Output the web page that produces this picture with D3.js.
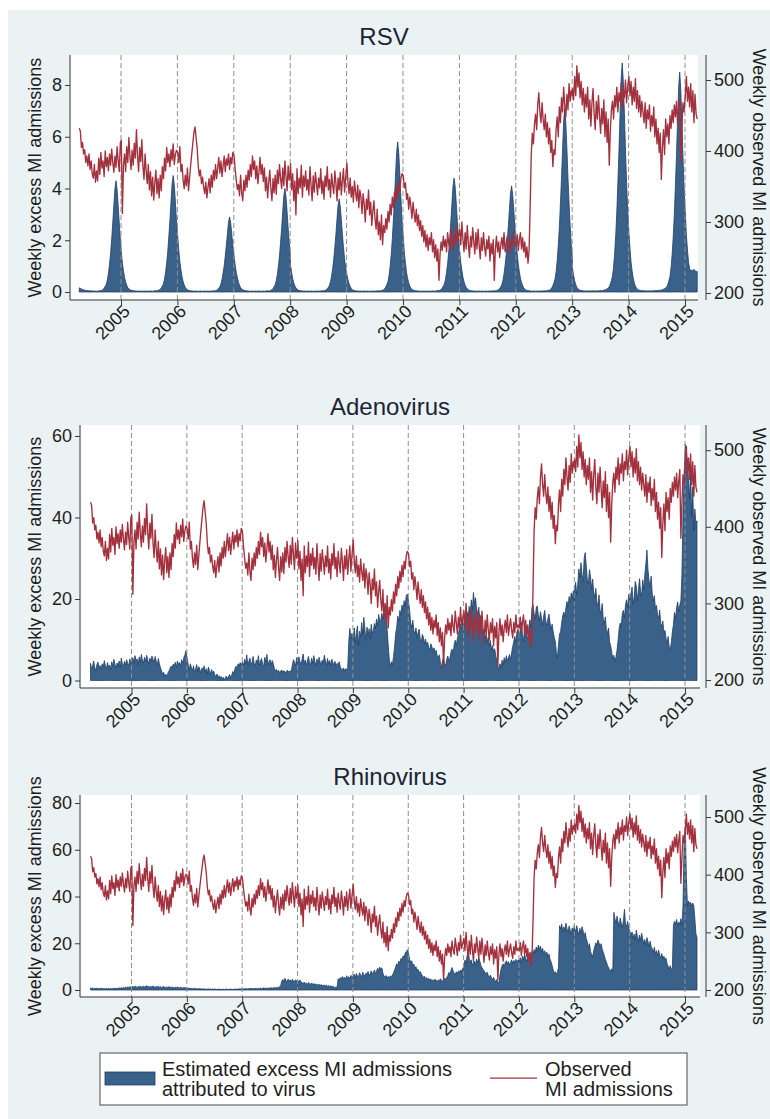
<!DOCTYPE html>
<html><head><meta charset="utf-8">
<script src="https://cdn.jsdelivr.net/npm/d3@7"></script>
<style>
body{margin:0;background:#fff}
svg{display:block}
text{font-family:"Liberation Sans",Arial,Helvetica,sans-serif}
</style>
</head><body>
<svg id="c" width="770" height="1119"></svg>
<script>
// ---------------- DATA ----------------
const seriesYears = [2004,2005,2006,2007,2008,2009,2010,2011,2012,2013,2014,2015];
const yearTicks = [2005,2006,2007,2008,2009,2010,2011,2012,2013,2014,2015];
const observedTicks = [200,300,400,500];
const rsvTicks = [0,2,4,6,8];
const adenoTicks = [0,20,40,60];
const rhinoTicks = [0,20,40,60,80];
const panelTitles = ["RSV","Adenovirus","Rhinovirus"];
const leftAxisTitle = "Weekly excess MI admissions";
const rightAxisTitle = "Weekly observed MI admissions";
const legendLabels = [["Estimated excess MI admissions","attributed to virus"],["Observed","MI admissions"]];

// weekly observed MI admissions, one row per year (2004 starts in April, 2015 ends in March)
const observed = [
[432,428,405,412,396,402,384,393,379,396,374,386,368,362,381,356,372,358,390,367,398,376,386,364,400,378,391,372,396,380,403,384,370,393,377,406,386,371,412],
[415,312,380,396,371,406,384,419,392,374,401,380,411,390,430,394,371,405,385,416,379,360,396,371,354,381,345,371,337,363,331,356,373,340,361,334,366,344,378,361,390,372,405,384,396,378,402,387,410,381,395,401],
[398,384,406,371,381,359,347,366,351,376,344,362,380,396,411,426,434,419,404,379,365,373,354,363,349,340,356,334,349,361,341,366,349,373,359,381,361,376,391,369,386,364,379,393,371,389,380,396,374,391,382,398],
[393,374,359,346,353,337,366,341,330,359,344,366,349,373,359,381,364,393,374,386,361,379,354,371,391,367,381,357,376,344,363,334,356,373,347,330,361,341,366,339,373,354,381,361,347,376,351,386,364,344,379,359,371],
[382,345,368,330,358,310,375,340,362,348,380,335,365,350,372,345,360,338,378,352,330,365,342,370,355,338,362,348,375,340,358,332,365,350,378,345,360,335,368,352,340,372,355,330,362,345,370,338,358,375,342,362],
[383,355,340,362,335,350,328,358,342,330,352,320,345,335,312,340,325,300,332,318,345,310,328,295,315,330,305,290,318,282,300,275,310,268,295,285,305,290,315,300,325,310,335,320,342,328,350,335,355,345,362,368],
[365,348,355,332,340,318,335,322,305,328,312,300,318,295,310,288,302,280,295,272,288,265,282,260,278,268,285,258,275,250,268,245,262,218,255,272,260,280,265,275,258,285,270,262,290,275,260,282,268,295,272,280],
[290,268,300,275,258,285,262,295,270,250,280,265,292,272,255,285,262,290,268,248,278,260,285,265,252,275,262,280,245,270,255,275,218,262,280,258,272,250,268,278,262,285,258,270,280,265,255,275,262,285,268,272],
[268,282,260,275,285,262,278,258,272,250,265,242,260,320,395,425,410,438,452,430,465,482,455,440,468,445,430,452,420,440,410,432,398,415,378,402,395,430,448,420,462,440,475,455,490,465,448,480,458,495,470,485,478],
[488,472,505,478,520,490,510,475,498,465,488,455,480,462,490,445,472,435,468,488,452,430,470,445,478,450,425,460,438,472,420,455,412,445,380,430,458,470,445,478,462,490,455,482,470,495,460,485,475,500,468,490],
[505,478,498,465,490,470,502,460,485,455,478,448,470,455,440,468,432,458,445,465,428,450,435,462,420,445,410,432,398,425,360,405,430,395,445,420,438,410,450,432,458,440,465,448,470,438,460,475,385,430,468,455],
[478,505,470,490,462,495,455,485,440,480,452,445]
];

const rsvExcess = [
[0.16,0.14,0.12,0.1,0.09,0.07,0.06,0.06,0.05,0.05,0.04,0.05,0.04,0.04,0.03,0.04,0.03,0.04,0.04,0.05,0.05,0.06,0.1,0.15,0.22,0.3,0.47,0.73,1.08,1.5,2.06,2.67,3.35,4.0,4.3,3.96,3.35,2.67,2.06],
[1.55,1.12,0.82,0.56,0.39,0.26,0.17,0.12,0.09,0.07,0.06,0.05,0.05,0.04,0.04,0.03,0.04,0.03,0.03,0.04,0.03,0.03,0.04,0.03,0.03,0.04,0.03,0.04,0.04,0.03,0.04,0.05,0.04,0.05,0.06,0.08,0.1,0.16,0.23,0.32,0.5,0.77,1.13,1.58,2.16,2.79,3.51,4.19,4.5,4.14,3.51,2.79],
[2.16,1.62,1.17,0.86,0.59,0.41,0.27,0.18,0.12,0.09,0.07,0.06,0.05,0.04,0.04,0.03,0.03,0.04,0.03,0.03,0.03,0.04,0.03,0.03,0.03,0.04,0.03,0.03,0.04,0.03,0.03,0.04,0.04,0.04,0.05,0.05,0.07,0.1,0.15,0.2,0.32,0.49,0.73,1.02,1.39,1.8,2.26,2.7,2.9,2.67,2.26,1.8],
[1.39,1.04,0.75,0.55,0.38,0.26,0.17,0.12,0.09,0.07,0.05,0.05,0.04,0.04,0.03,0.03,0.04,0.03,0.03,0.03,0.04,0.03,0.03,0.04,0.03,0.03,0.03,0.04,0.03,0.04,0.04,0.05,0.04,0.05,0.06,0.09,0.14,0.2,0.28,0.44,0.68,1.0,1.4,1.92,2.48,3.12,3.72,4.0,3.68,3.12,2.48,1.92,1.44],
[1.04,0.76,0.52,0.36,0.24,0.16,0.11,0.08,0.06,0.05,0.05,0.04,0.04,0.04,0.03,0.03,0.04,0.03,0.03,0.04,0.03,0.03,0.03,0.04,0.03,0.04,0.03,0.04,0.04,0.05,0.04,0.05,0.06,0.08,0.13,0.18,0.25,0.4,0.61,0.9,1.26,1.73,2.23,2.81,3.35,3.6,3.31,2.81,2.23,1.73,1.3,0.94],
[0.68,0.47,0.32,0.22,0.14,0.1,0.07,0.06,0.05,0.04,0.04,0.04,0.03,0.04,0.03,0.03,0.04,0.03,0.03,0.04,0.03,0.03,0.03,0.04,0.03,0.04,0.03,0.04,0.04,0.05,0.04,0.05,0.06,0.07,0.09,0.13,0.2,0.29,0.41,0.64,0.99,1.45,2.03,2.78,3.6,4.52,5.39,5.8,5.34,4.52,3.6,2.78],
[2.09,1.51,1.1,0.75,0.52,0.35,0.23,0.15,0.1,0.08,0.06,0.05,0.05,0.04,0.04,0.03,0.04,0.03,0.03,0.04,0.03,0.03,0.04,0.03,0.03,0.04,0.03,0.04,0.04,0.03,0.04,0.05,0.05,0.06,0.07,0.1,0.15,0.22,0.31,0.48,0.75,1.1,1.54,2.11,2.73,3.43,4.09,4.4,4.05,3.43,2.73,2.11],
[1.58,1.14,0.84,0.57,0.4,0.26,0.18,0.12,0.09,0.07,0.05,0.05,0.04,0.04,0.03,0.04,0.03,0.03,0.04,0.03,0.03,0.04,0.03,0.03,0.04,0.03,0.03,0.04,0.04,0.03,0.04,0.05,0.04,0.05,0.06,0.07,0.1,0.14,0.2,0.29,0.45,0.7,1.03,1.44,1.97,2.54,3.2,3.81,4.1,3.77,3.2,2.54],
[1.97,1.48,1.07,0.78,0.53,0.37,0.25,0.16,0.11,0.08,0.06,0.05,0.05,0.04,0.04,0.03,0.04,0.04,0.03,0.04,0.03,0.04,0.04,0.03,0.04,0.04,0.05,0.04,0.05,0.06,0.07,0.08,0.11,0.16,0.25,0.36,0.5,0.78,1.21,1.78,2.49,3.41,4.4,5.54,6.6,7.1,6.53,5.54,4.4,3.41,2.56,1.85,1.35],
[0.92,0.64,0.43,0.28,0.18,0.12,0.09,0.07,0.06,0.05,0.05,0.04,0.04,0.05,0.04,0.04,0.05,0.04,0.04,0.05,0.04,0.04,0.05,0.04,0.05,0.05,0.06,0.05,0.06,0.07,0.08,0.1,0.12,0.15,0.2,0.31,0.44,0.62,0.97,1.5,2.21,3.1,4.25,5.49,6.9,8.23,8.85,8.14,6.9,5.49,4.25,3.19],
[2.3,1.68,1.15,0.8,0.53,0.35,0.22,0.15,0.11,0.08,0.07,0.06,0.05,0.05,0.05,0.04,0.05,0.04,0.05,0.04,0.05,0.05,0.04,0.05,0.05,0.06,0.05,0.06,0.07,0.06,0.08,0.09,0.11,0.13,0.16,0.19,0.3,0.43,0.6,0.94,1.45,2.13,2.98,4.08,5.27,6.63,7.9,8.5,7.82,6.63,5.27,4.08],
[3.06,2.21,1.62,1.15,0.9,0.82,0.85,0.8,0.88,0.82,0.78,0.8]
];

const adenoExcess = [
[4.2,2.8,3.6,4.8,3.1,2.5,3.9,4.5,3.0,3.7,2.6,4.1,3.3,4.9,3.5,2.9,4.4,3.2,3.8,2.7,4.6,3.4,5.2,3.9,3.1,4.3,3.6,4.8,3.2,5.5,4.0,3.5,4.7,3.8,5.1,4.2,3.6,5.3,4.4],
[4.8,5.6,4.2,6.1,4.9,5.3,3.8,5.8,4.5,6.4,5.0,4.3,5.7,4.6,6.2,5.1,3.9,5.5,4.7,6.0,5.2,4.4,5.9,4.8,3.7,5.4,4.1,3.2,2.4,1.6,2.0,1.2,1.5,1.0,1.8,2.3,2.9,3.5,3.1,4.0,3.6,4.5,3.2,4.8,3.9,4.4,3.5,5.1,4.2,5.6,6.2,7.3],
[5.5,3.8,2.6,4.1,3.2,2.4,3.6,1.9,2.8,3.9,2.2,3.4,2.7,1.8,3.1,2.5,3.6,2.0,2.9,1.6,3.3,2.4,1.5,2.7,1.9,2.3,1.4,0.9,1.6,0.7,1.2,0.5,1.0,0.3,0.8,0.2,0.6,1.1,0.4,0.9,1.5,0.7,1.3,2.2,1.6,2.8,3.5,2.9,4.1,3.6,4.4,3.8],
[4.5,3.6,5.2,4.1,6.3,3.8,4.7,5.5,3.9,4.4,5.9,4.2,3.5,5.0,4.3,6.1,3.7,4.8,5.4,4.0,3.4,5.7,4.5,6.4,3.9,4.6,5.1,3.8,4.9,4.2,3.0,2.4,2.7,2.1,2.5,1.9,2.3,2.6,2.0,2.4,2.2,1.8,2.5,2.3,2.1,2.4,2.2,3.8,5.1,4.4,3.6,5.6,4.9],
[4.3,5.8,4.6,3.9,5.2,6.5,4.1,5.0,3.7,4.8,5.9,4.4,3.8,5.5,4.2,6.1,4.7,3.6,5.3,4.0,5.7,4.5,3.9,5.0,4.3,6.2,4.8,3.7,5.4,4.1,4.9,3.6,5.2,4.4,3.8,4.7,3.5,4.2,3.9,4.6,3.3,2.8,2.5,3.1,2.4,2.9,2.6,3.2,9.5,12.8,10.2,11.6],
[10.4,12.9,9.1,11.8,13.4,8.6,12.1,10.7,14.2,11.3,15.5,12.6,9.8,13.1,11.0,12.7,10.3,13.8,11.6,12.2,14.0,12.8,15.1,13.5,16.2,14.6,14.8,16.5,15.2,17.0,18.4,16.8,12.5,8.6,5.2,3.4,4.6,3.8,5.9,8.2,11.5,13.0,15.8,14.5,17.2,16.0,18.5,17.1,19.6,18.2,20.8,21.2],
[19.5,17.2,14.1,13.0,14.8,12.2,11.5,12.9,10.4,11.8,12.6,10.1,9.5,11.3,10.6,9.0,10.2,8.7,9.4,8.1,7.6,9.0,8.3,7.2,8.0,6.9,7.4,6.1,5.5,6.3,4.4,3.0,4.9,5.6,4.1,3.6,5.2,6.0,4.8,5.5,6.9,7.7,6.4,8.8,9.9,8.6,10.3,11.5,12.8,13.9,12.6,14.6],
[13.2,15.6,14.1,16.8,15.3,18.2,16.5,19.8,17.4,21.6,18.9,20.3,17.1,16.2,18.0,14.8,15.9,13.1,11.5,12.6,10.2,11.4,9.3,10.7,8.5,9.8,7.4,8.6,6.9,7.8,6.2,4.8,3.5,2.6,4.1,3.2,5.0,3.8,5.6,4.3,6.1,4.9,5.5,6.4,5.1,6.8,8.3,9.6,10.8,9.4,11.9,12.6],
[10.8,12.6,14.3,11.2,9.6,12.9,13.8,11.0,10.2,12.4,14.9,13.1,17.9,18.6,16.4,15.1,17.8,18.3,16.0,14.7,16.9,15.3,13.6,15.8,17.2,14.6,13.4,15.1,16.3,14.2,12.5,13.8,11.9,10.6,9.5,6.8,5.6,8.9,11.4,12.0,14.2,15.9,16.8,15.6,17.9,19.4,18.0,20.6,19.1,21.5,20.2,22.0,19.0],
[22.5,24.1,21.0,23.6,27.4,25.2,28.9,26.0,24.3,29.9,31.4,28.1,24.6,23.8,27.2,25.5,22.4,24.9,21.7,20.3,22.6,19.1,18.4,21.0,17.2,16.5,18.9,15.1,14.0,15.6,12.3,11.7,12.9,9.4,8.6,6.9,5.3,6.2,4.6,5.8,7.4,9.9,12.8,14.1,13.3,16.5,17.2,15.4,18.6,19.8,17.9,21.1],
[19.8,21.4,22.9,18.7,20.5,24.3,23.1,19.6,22.2,25.0,21.8,20.6,24.7,22.3,25.9,28.6,32.0,27.1,24.4,23.0,25.6,21.2,19.5,20.8,17.6,18.4,16.2,15.1,17.3,14.0,13.2,14.6,11.5,12.3,10.4,9.1,10.8,8.2,7.6,9.3,11.9,13.8,16.7,15.2,17.9,19.3,16.8,18.5,19.5,26.0,40.5,50.2],
[58.0,55.5,53.6,49.2,44.5,51.8,40.2,47.5,36.8,42.1,38.5,39.2]
];

const rhinoExcess = [
[0.8,0.6,0.9,0.5,0.7,0.6,0.8,0.4,0.7,0.5,0.6,0.8,0.5,0.6,0.4,0.7,0.5,0.6,0.5,0.7,0.4,0.6,0.8,0.5,0.7,0.6,0.8,0.9,0.7,1.0,0.8,1.1,0.9,1.2,1.0,1.3,1.1,1.4,1.2],
[1.3,1.5,1.2,1.6,1.4,1.1,1.5,1.3,1.7,1.2,1.4,1.6,1.3,1.5,1.8,1.4,1.6,1.2,1.5,1.3,1.7,1.4,1.1,1.5,1.3,1.6,1.2,1.4,1.1,1.3,1.5,1.2,1.0,1.3,1.1,1.4,1.2,1.0,1.3,1.1,0.9,1.2,1.0,1.3,1.1,0.9,1.2,1.0,0.8,1.1,0.9,1.0],
[0.9,0.7,0.8,0.6,0.7,0.5,0.6,0.7,0.5,0.6,0.4,0.5,0.6,0.4,0.5,0.3,0.5,0.4,0.3,0.4,0.5,0.3,0.4,0.3,0.4,0.3,0.4,0.3,0.2,0.3,0.4,0.2,0.3,0.2,0.3,0.2,0.3,0.4,0.3,0.2,0.3,0.4,0.3,0.2,0.3,0.4,0.3,0.4,0.3,0.5,0.4,0.5],
[0.4,0.5,0.4,0.6,0.5,0.4,0.6,0.5,0.7,0.5,0.6,0.5,0.7,0.6,0.5,0.7,0.6,0.8,0.6,0.7,0.9,0.7,0.8,0.6,0.9,0.7,0.8,1.0,0.8,0.9,1.1,0.9,1.0,1.2,1.0,1.4,1.9,3.8,4.5,3.6,5.0,4.1,3.5,4.7,3.9,4.3,3.4,4.6,4.0,3.5,4.4,3.8,4.2],
[4.0,3.6,4.3,3.3,3.1,2.8,3.4,2.6,3.0,2.4,3.2,2.7,2.5,3.0,2.3,2.8,2.1,2.6,2.4,2.0,2.5,1.9,2.3,2.0,1.8,2.2,1.7,2.0,1.6,1.9,1.5,1.8,1.4,1.6,1.2,1.0,1.3,1.1,4.8,4.2,5.3,4.6,5.8,4.9,5.5,4.4,6.1,5.0,5.7,4.8,6.3,5.4],
[5.9,6.8,5.2,7.1,6.0,5.5,7.4,6.3,5.8,7.6,6.5,5.9,7.2,6.6,7.9,6.2,7.0,8.2,6.8,7.5,8.6,7.1,8.0,9.3,8.4,9.8,8.8,9.5,7.2,6.0,5.4,6.2,5.1,5.8,5.3,6.0,5.6,6.4,7.3,8.5,9.8,11.2,10.5,12.4,11.6,13.5,12.8,14.6,13.9,15.8,16.4,17.2],
[15.5,13.2,11.8,12.5,10.4,11.1,9.2,10.0,8.3,8.9,7.4,7.9,6.8,6.2,5.4,5.9,4.8,5.3,4.5,5.0,4.2,4.7,3.9,4.4,3.8,4.6,4.1,3.7,4.3,3.9,4.8,4.2,3.6,4.5,5.1,4.6,5.4,6.2,7.5,6.8,8.4,9.6,8.1,7.2,6.5,7.8,6.9,8.2,7.5,8.6,8.0,9.1],
[10.2,12.8,11.4,14.6,17.1,13.5,11.8,12.9,10.6,11.5,12.4,10.8,13.2,11.6,14.0,12.3,10.5,9.6,8.8,8.2,7.5,6.8,7.6,6.2,5.5,6.4,5.1,4.6,5.4,4.2,3.8,4.5,3.4,3.0,6.5,8.8,10.4,11.2,10.0,11.8,12.5,11.0,12.2,10.8,11.6,12.9,11.3,12.6,11.9,13.1,12.0,12.8],
[12.4,13.8,11.6,14.5,12.9,15.2,13.6,12.1,14.8,13.3,15.9,14.2,16.5,15.1,17.3,15.8,18.4,16.6,19.2,17.4,18.8,16.2,17.9,15.5,16.8,14.9,16.2,14.1,15.4,13.2,12.1,10.5,8.6,7.2,7.8,6.9,7.5,9.8,27.5,26.1,28.3,24.8,27.0,25.5,28.6,26.2,24.5,27.4,25.8,23.9,26.6,25.0,27.8],
[26.3,24.8,27.5,25.2,23.6,26.4,24.0,27.1,25.4,22.8,24.6,22.0,20.5,18.2,19.8,16.5,15.2,14.3,16.8,18.5,20.2,19.0,21.4,20.1,18.6,19.8,17.5,16.2,14.8,13.1,12.0,10.5,9.6,8.7,8.2,9.1,8.0,33.2,30.5,28.4,31.6,29.0,27.2,30.8,28.5,26.8,29.6,34.5,28.2,27.0,29.4,26.5],
[25.0,23.4,24.8,22.1,23.9,21.5,25.6,22.8,20.9,23.5,21.2,24.3,22.0,19.8,21.6,19.0,22.4,20.5,18.7,20.9,18.5,17.6,16.2,18.3,15.4,16.8,14.6,17.1,15.0,13.8,15.6,13.2,14.5,12.9,13.6,11.2,10.1,9.0,10.4,8.6,9.5,27.8,29.4,28.1,30.2,27.5,29.0,28.2,30.5,27.6,36.0,62.0],
[70.0,48.5,36.2,38.1,36.8,37.5,35.9,37.2,36.0,30.5,24.0,22.5]
];

// ---------------- DRAWING ----------------
const FILL = "#3a618a", EDGE = "#1c3f67", RED = "#a3303d", AXIS = "#3a3a3a", TXT = "#1e1e1e";

// weekly position: first chunk starts in early April 2004, others at first week of January
function toPoints(chunks){
  const out = [];
  chunks.forEach((arr,k) => {
    const yr = seriesYears[k], off = (k === 0) ? 95 : 2;
    arr.forEach((v,i) => out.push({t: yr + (off + 7*i)/365.25, v: v}));
  });
  return out;
}
const obsPts = toPoints(observed);

const layouts = [
  {excess: rsvExcess,   lt: rsvTicks,   top: 55,  bot: 300, axL: 70, plotR: 698, axR: 706, x05: 121,   x15: 685, yl: [0,292,8,85],     yr: [200,293,500,80]},
  {excess: adenoExcess, lt: adenoTicks, top: 425, bot: 688, axL: 80, plotR: 700, axR: 706, x05: 131.5, x15: 685, yl: [0,680.5,60,436], yr: [200,680,500,450.2]},
  {excess: rhinoExcess, lt: rhinoTicks, top: 795, bot: 997, axL: 80, plotR: 700, axR: 706, x05: 131.5, x15: 685, yl: [0,990,80,803],    yr: [200,990,500,817]}
];

const svg = d3.select("#c");
svg.append("rect").attr("x",0).attr("y",0).attr("width",770).attr("height",1119).attr("fill","#ffffff");
svg.append("rect").attr("x",8).attr("y",10).attr("width",762).attr("height",1109).attr("fill","#eaf2f3");

layouts.forEach((p, idx) => {
  const x = d3.scaleLinear().domain([2005,2015]).range([p.x05, p.x15]);
  const yL = d3.scaleLinear().domain([p.yl[0], p.yl[2]]).range([p.yl[1], p.yl[3]]);
  const yR = d3.scaleLinear().domain([p.yr[0], p.yr[2]]).range([p.yr[1], p.yr[3]]);
  const g = svg.append("g");

  // plot region
  g.append("rect").attr("x", p.axL + 1).attr("y", p.top)
    .attr("width", p.plotR - p.axL - 1).attr("height", p.bot - p.top - 1).attr("fill", "#ffffff");

  // excess area
  const pts = toPoints(p.excess);
  g.append("path").datum(pts)
    .attr("d", d3.area().x(d => x(d.t)).y0(yL(0)).y1(d => yL(d.v)))
    .attr("fill", FILL).attr("stroke", EDGE).attr("stroke-width", 0.8).attr("stroke-linejoin","round");

  // dashed year lines
  g.selectAll("line.yl").data(yearTicks).enter().append("line")
    .attr("x1", d => x(d)).attr("x2", d => x(d))
    .attr("y1", p.top).attr("y2", p.bot)
    .attr("stroke", "#8e8e8e").attr("stroke-width", 1).attr("stroke-dasharray", "5,3");

  // observed line
  g.append("path").datum(obsPts)
    .attr("d", d3.line().x(d => x(d.t)).y(d => yR(d.v)))
    .attr("fill", "none").attr("stroke", RED).attr("stroke-width", 1.35).attr("stroke-linejoin","round");

  // left axis
  const la = g.append("g").attr("transform", `translate(${p.axL},0)`)
    .call(d3.axisLeft(yL).tickValues(p.lt).tickSize(5).tickPadding(3).tickFormat(d3.format("d")));
  la.select(".domain").remove();
  la.selectAll("line").attr("stroke", AXIS);
  la.selectAll("text").attr("font-size", 18).attr("fill", TXT).attr("font-family", null);
  g.append("line").attr("x1", p.axL).attr("x2", p.axL).attr("y1", p.top).attr("y2", p.bot).attr("stroke", AXIS);

  // right axis
  const ra = g.append("g").attr("transform", `translate(${p.axR},0)`)
    .call(d3.axisRight(yR).tickValues(observedTicks).tickSize(5).tickPadding(3));
  ra.select(".domain").remove();
  ra.selectAll("line").attr("stroke", AXIS);
  ra.selectAll("text").attr("font-size", 18).attr("fill", TXT).attr("font-family", null);
  g.append("line").attr("x1", p.axR).attr("x2", p.axR).attr("y1", p.top).attr("y2", p.bot).attr("stroke", AXIS);

  // bottom axis
  const ba = g.append("g").attr("transform", `translate(0,${p.bot})`)
    .call(d3.axisBottom(x).tickValues(yearTicks).tickSize(5).tickFormat(d3.format("d")));
  ba.select(".domain").remove();
  ba.selectAll("line").attr("stroke", AXIS);
  ba.selectAll("text").attr("font-size", 18).attr("fill", TXT).attr("font-family", null)
    .attr("x", 0).attr("y", 0).attr("dy", "0.35em")
    .attr("text-anchor", "end").attr("transform", "translate(5,8) rotate(-45)");
  g.append("line").attr("x1", p.axL).attr("x2", p.plotR).attr("y1", p.bot).attr("y2", p.bot).attr("stroke", AXIS);

  // titles
  g.append("text").attr("x", (p.axL + p.plotR) / 2).attr("y", p.top - 10)
    .attr("text-anchor", "middle").attr("font-size", 24).attr("fill", "#1b2536").text(panelTitles[idx]);
  const cy = (p.top + p.bot) / 2;
  g.append("text").attr("transform", `translate(41,${cy}) rotate(-90)`)
    .attr("text-anchor", "middle").attr("font-size", 18).attr("fill", TXT).text(leftAxisTitle);
  g.append("text").attr("transform", `translate(753,${cy}) rotate(90)`)
    .attr("text-anchor", "middle").attr("font-size", 18).attr("fill", TXT).text(rightAxisTitle);
});

// legend
const lg = svg.append("g");
lg.append("rect").attr("x", 100).attr("y", 1053).attr("width", 587).attr("height", 52)
  .attr("fill", "#ffffff").attr("stroke", "#4a4a4a").attr("stroke-width", 1);
lg.append("rect").attr("x", 105).attr("y", 1072).attr("width", 50).attr("height", 13)
  .attr("fill", FILL).attr("stroke", EDGE).attr("stroke-width", 0.8);
lg.append("line").attr("x1", 490).attr("x2", 537).attr("y1", 1078).attr("y2", 1078)
  .attr("stroke", RED).attr("stroke-width", 1.25);
const lx = [162, 545];
legendLabels.forEach((lines, i) => {
  lines.forEach((s, j) => {
    lg.append("text").attr("x", lx[i]).attr("y", 1076 + 20 * j)
      .attr("font-size", 20).attr("fill", TXT).text(s);
  });
});
</script>
</body></html>
